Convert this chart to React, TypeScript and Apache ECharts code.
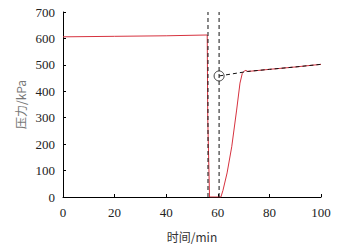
import React, { useEffect, useRef } from "react";
import * as echarts from "echarts";

const xTicks = [0, 20, 40, 60, 80, 100];
const yTicks = [0, 100, 200, 300, 400, 500, 600, 700];

const pressureX = [0, 20, 40, 55.9, 56.1, 56.8, 61.2, 62.0, 63.6, 65.4, 67.3, 68.6, 69.5, 70.3, 70.9, 71.6, 80, 90, 100];
const pressureY = [606, 608, 610, 613, 300, 0, 0, 25, 91, 190, 329, 431, 468, 477, 479, 475, 483, 492, 502];

const fitX = [60.5, 71.5, 80, 90, 100];
const fitY = [458, 475, 483, 492, 502];

const dashLine1X = [56.2, 56.2];
const dashLine2X = [60.5, 60.5];
const dashLineY = [0, 700];

const zip = (a: number[], b: number[]) => a.map((v, i) => [v, b[i]]);

export default function App() {
  const ref = useRef<HTMLDivElement>(null);
  useEffect(() => {
    if (!ref.current) return;
    const chart = echarts.init(ref.current, undefined, { renderer: "svg" });
    const numFont = "Liberation Serif";
    const cjkFont = "Noto Sans CJK SC";
    chart.setOption({
      animation: false,
      grid: { left: 63, right: 30, top: 12, bottom: 52 },
      xAxis: {
        type: "value",
        min: xTicks[0],
        max: xTicks[xTicks.length - 1],
        interval: 20,
        name: "时间/min",
        nameLocation: "middle",
        nameGap: 33,
        nameMoveOverlap: false,
        nameTextStyle: { fontFamily: cjkFont, fontSize: 12, color: "#333" },
        axisLine: { lineStyle: { color: "#000", width: 1 } },
        axisTick: { inside: true, length: 3, lineStyle: { color: "#000" } },
        axisLabel: { fontFamily: numFont, fontSize: 13, color: "#222", margin: 9 },
        splitLine: { show: false },
      },
      yAxis: {
        type: "value",
        min: yTicks[0],
        max: yTicks[yTicks.length - 1],
        interval: 100,
        name: "压力/kPa",
        nameLocation: "middle",
        nameGap: 37,
        nameMoveOverlap: false,
        nameTextStyle: { fontFamily: cjkFont, fontSize: 12, color: "#777" },
        axisLine: { show: true, lineStyle: { color: "#000", width: 1 } },
        axisTick: { show: true, inside: true, length: 3, lineStyle: { color: "#000" } },
        axisLabel: { fontFamily: numFont, fontSize: 13, color: "#222", margin: 8 },
        splitLine: { show: false },
      },
      series: [
        {
          type: "line",
          data: zip(dashLine1X, dashLineY),
          symbol: "none",
          lineStyle: { color: "#111", width: 1, type: [4, 3] },
          z: 3,
        },
        {
          type: "line",
          data: zip(dashLine2X, dashLineY),
          symbol: "none",
          lineStyle: { color: "#111", width: 1, type: [4, 3] },
          z: 3,
        },
        {
          type: "line",
          data: zip(pressureX, pressureY),
          symbol: "none",
          smooth: false,
          lineStyle: { color: "#d6323f", width: 1 },
          z: 2,
        },
        {
          type: "line",
          data: zip(fitX, fitY),
          symbol: "none",
          lineStyle: { color: "#111", width: 1, type: [4, 3] },
          z: 4,
        },
        {
          type: "scatter",
          data: [[fitX[0], fitY[0]]],
          symbol: "circle",
          symbolSize: 10,
          itemStyle: { color: "rgba(255,255,255,0)", borderColor: "#111", borderWidth: 1 },
          z: 5,
        },
      ],
    });
    return () => chart.dispose();
  }, []);
  return <div ref={ref} style={{ position: "absolute", left: 0, top: 0, width: 351, height: 249 }} />;
}
